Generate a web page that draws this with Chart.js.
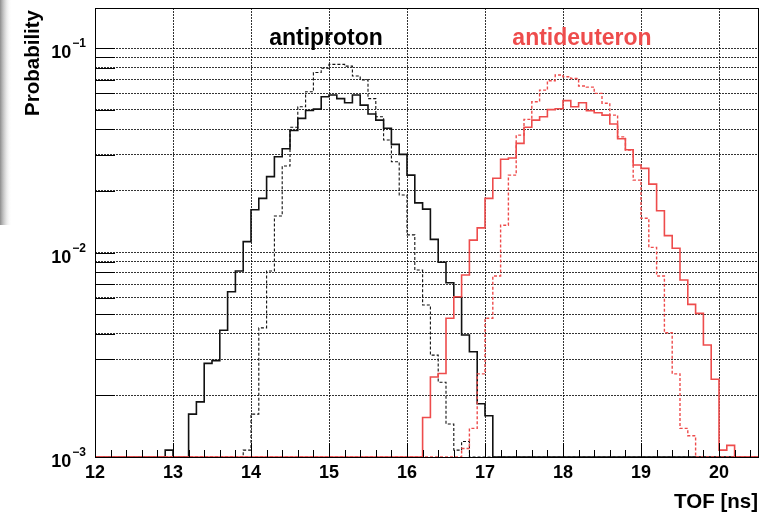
<!DOCTYPE html>
<html>
<head>
<meta charset="utf-8">
<script src="https://cdn.jsdelivr.net/npm/chart.js@4/dist/chart.umd.min.js"></script>
<style>
  html, body { margin: 0; padding: 0; background: #fff; }
  canvas { display: block; }
</style>
</head>
<body>
<canvas id="tofChart" width="769" height="520"></canvas>
<script>
// TOF histograms, bins of 0.1 ns starting at 12.0 ns
const binLow = 12.0;
const binWidth = 0.1;
const yMin = 0.001;
const yMax = 0.157;
const xTicks = [12, 13, 14, 15, 16, 17, 18, 19, 20];
const yTicks = [0.001, 0.002, 0.003, 0.004, 0.005, 0.006, 0.007, 0.008, 0.009,
                0.01, 0.02, 0.03, 0.04, 0.05, 0.06, 0.07, 0.08, 0.09, 0.1];
const yLabels = [[0.001, '\u22123'], [0.01, '\u22122'], [0.1, '\u22121']];

// antiproton, solid
const pbarSolid = [
  0, 0, 0, 0, 0, 0, 0, 0, 0, 0.00108,
  0, 0, 0.00162, 0.00186, 0.00287, 0.00296, 0.00417, 0.00643, 0.00812, 0.0113,
  0.0162, 0.0184, 0.0235, 0.0294, 0.0322, 0.0395, 0.0453, 0.0495, 0.0503, 0.0578,
  0.0589, 0.0566, 0.0540, 0.0589, 0.0526, 0.0476, 0.0444, 0.0405, 0.0338, 0.0302,
  0.0239, 0.0175, 0.0163, 0.0116, 0.00896, 0.00712, 0.00604, 0.00395, 0.00327, 0.00182,
  0.00159, 0, 0, 0, 0, 0, 0, 0, 0, 0,
  0, 0, 0, 0, 0, 0, 0, 0, 0, 0,
  0, 0, 0, 0, 0, 0, 0, 0, 0, 0,
  0, 0, 0, 0, 0
];

// antiproton, dashed
const pbarDashed = [
  0, 0, 0, 0, 0, 0, 0, 0, 0, 0,
  0, 0, 0, 0, 0, 0, 0, 0, 0, 0.00108,
  0.00162, 0.00428, 0.00812, 0.0151, 0.0265, 0.0410, 0.0516, 0.0611, 0.0760, 0.0796,
  0.0832, 0.0832, 0.0816, 0.0730, 0.0699, 0.0566, 0.0461, 0.0355, 0.0278, 0.0191,
  0.0122, 0.00821, 0.00554, 0.00315, 0.00232, 0.00145, 0.00108, 0.00119, 0, 0,
  0, 0, 0, 0, 0, 0, 0, 0, 0, 0,
  0, 0, 0, 0, 0, 0, 0, 0, 0, 0,
  0, 0, 0, 0, 0, 0, 0, 0, 0, 0,
  0, 0, 0, 0, 0
];

// antideuteron, solid
const dbarSolid = [
  0, 0, 0, 0, 0, 0, 0, 0, 0, 0,
  0, 0, 0, 0, 0, 0, 0, 0, 0, 0,
  0, 0, 0, 0, 0, 0, 0, 0, 0, 0,
  0, 0, 0, 0, 0, 0, 0, 0, 0, 0,
  0, 0, 0.00156, 0.00246, 0.00256, 0.00477, 0.00608, 0.00776, 0.0115, 0.0132,
  0.0184, 0.0231, 0.0286, 0.0290, 0.0342, 0.0410, 0.0444, 0.0461, 0.0500, 0.0505,
  0.0553, 0.0516, 0.0540, 0.0494, 0.0483, 0.0470, 0.0425, 0.0360, 0.0318, 0.0268,
  0.0258, 0.0216, 0.0160, 0.0121, 0.0105, 0.00734, 0.00558, 0.00504, 0.00353, 0.00240,
  0.00108, 0.00114, 0, 0, 0
];

// antideuteron, dashed
const dbarDashed = [
  0, 0, 0, 0, 0, 0, 0, 0, 0, 0,
  0, 0, 0, 0, 0, 0, 0, 0, 0, 0,
  0, 0, 0, 0, 0, 0, 0, 0, 0, 0,
  0, 0, 0, 0, 0, 0, 0, 0, 0, 0,
  0, 0, 0, 0, 0, 0, 0, 0.0011, 0.00138, 0.00255,
  0.00477, 0.00768, 0.0136, 0.0239, 0.0375, 0.0448, 0.0546, 0.0623, 0.0692, 0.0738,
  0.0724, 0.0710, 0.0652, 0.0644, 0.0600, 0.0537, 0.0470, 0.0368, 0.0317, 0.0226,
  0.0147, 0.0106, 0.00768, 0.00405, 0.00255, 0.00138, 0.00127, 0, 0, 0,
  0, 0, 0, 0, 0
];

const red = '#ee4c4c';
const font = "'Liberation Sans', Arial, Helvetica, sans-serif";

// left bin edges as x, plus the closing right edge.
// empty bins sit on the axis floor, since a log axis has no zero
function toSteps(values) {
  const pts = values.map((v, i) => ({
    x: +(binLow + i * binWidth).toFixed(2),
    y: v > 0 ? v : yMin
  }));
  const last = values[values.length - 1];
  pts.push({ x: +(binLow + values.length * binWidth).toFixed(2), y: last > 0 ? last : yMin });
  return pts;
}

function histo(values, color, dashed, width, order) {
  return {
    data: toSteps(values),
    borderColor: color,
    borderWidth: width,
    borderDash: dashed ? [3, 2] : [],
    stepped: 'before',
    pointRadius: 0,
    fill: false,
    order: order
  };
}

const rootStyle = {
  id: 'rootStyle',
  beforeDraw(chart) {
    const ctx = chart.ctx;
    // window edge shadow on the left
    const g = ctx.createLinearGradient(0, 0, 12, 0);
    g.addColorStop(0, 'rgba(120,120,120,0.85)');
    g.addColorStop(1, 'rgba(255,255,255,0)');
    ctx.save();
    ctx.fillStyle = g;
    ctx.fillRect(0, 0, 12, 225);
    ctx.restore();
  },
  afterDraw(chart) {
    const ctx = chart.ctx;
    const a = chart.chartArea;
    const xs = chart.scales.x;
    const ys = chart.scales.y;
    ctx.save();
    ctx.strokeStyle = '#000';
    ctx.lineWidth = 1;
    ctx.setLineDash([]);

    // x ticks, pointing into the frame
    ctx.beginPath();
    for (let k = 0; k <= 42; k++) {
      const t = 12 + k * 0.2;
      const px = Math.round(xs.getPixelForValue(t)) + 0.5;
      const len = (k % 5 === 0) ? 14 : 7;
      ctx.moveTo(px, a.bottom);
      ctx.lineTo(px, a.bottom - len);
    }
    // y ticks
    ys.ticks.forEach(tk => {
      const py = Math.round(ys.getPixelForValue(tk.value)) + 0.5;
      ctx.moveTo(a.left, py);
      ctx.lineTo(a.left + 20, py);
    });
    ctx.stroke();

    // frame
    ctx.strokeRect(Math.round(a.left) + 0.5, Math.round(a.top) + 0.5,
                   Math.round(a.right - a.left), Math.round(a.bottom - a.top));

    // y labels 10^n
    ctx.fillStyle = '#000';
    ctx.textAlign = 'right';
    ctx.textBaseline = 'alphabetic';
    yLabels.forEach(([v, exp]) => {
      const py = ys.getPixelForValue(v);
      ctx.font = 'bold 12px ' + font;
      const w = ctx.measureText(exp).width;
      ctx.fillText(exp, 86, py - 1);
      ctx.font = 'bold 18px ' + font;
      ctx.fillText('10', 86 - w - 1, py + 10);
    });

    // axis titles
    ctx.font = 'bold 20.5px ' + font;
    ctx.textAlign = 'right';
    ctx.fillText('TOF [ns]', a.right, 508);
    ctx.save();
    ctx.translate(39, 10);
    ctx.rotate(-Math.PI / 2);
    ctx.textAlign = 'right';
    ctx.fillText('Probability', 0, 0);
    ctx.restore();

    // species labels
    ctx.font = 'bold 23px ' + font;
    ctx.textAlign = 'center';
    ctx.fillStyle = '#000';
    ctx.fillText('antiproton', 326, 45);
    ctx.fillStyle = red;
    ctx.fillText('antideuteron', 582, 45);
    ctx.restore();
  }
};

new Chart(document.getElementById('tofChart'), {
  type: 'line',
  data: {
    datasets: [
      histo(dbarSolid, red, false, 1.6, 0),
      histo(dbarDashed, red, true, 1.4, 1),
      histo(pbarSolid, '#111', false, 1.6, 2),
      histo(pbarDashed, '#111', true, 1.1, 3)
    ]
  },
  options: {
    responsive: false,
    devicePixelRatio: 1,
    animation: false,
    layout: { padding: { left: 0, top: 8, right: 11, bottom: 0 } },
    plugins: { legend: { display: false }, tooltip: { enabled: false } },
    scales: {
      x: {
        type: 'linear',
        min: 12,
        max: 20.5,
        afterFit(scale) { scale.height = 63; },
        afterBuildTicks(scale) { scale.ticks = xTicks.map(v => ({ value: v })); },
        grid: { color: 'rgba(0,0,0,0.8)', drawTicks: false, lineWidth: 1 },
        border: { display: false, dash: [2, 1] },
        ticks: {
          padding: 5,
          color: '#000',
          font: { family: font, size: 18, weight: 'bold' },
          maxRotation: 0,
          autoSkip: false
        }
      },
      y: {
        type: 'logarithmic',
        min: yMin,
        max: yMax,
        afterFit(scale) { scale.width = 95; },
        afterBuildTicks(scale) { scale.ticks = yTicks.map(v => ({ value: v })); },
        grid: { color: 'rgba(0,0,0,0.8)', drawTicks: false, lineWidth: 1 },
        border: { display: false, dash: [2, 1] },
        ticks: { display: false }
      }
    }
  },
  plugins: [rootStyle]
});
</script>
</body>
</html>
